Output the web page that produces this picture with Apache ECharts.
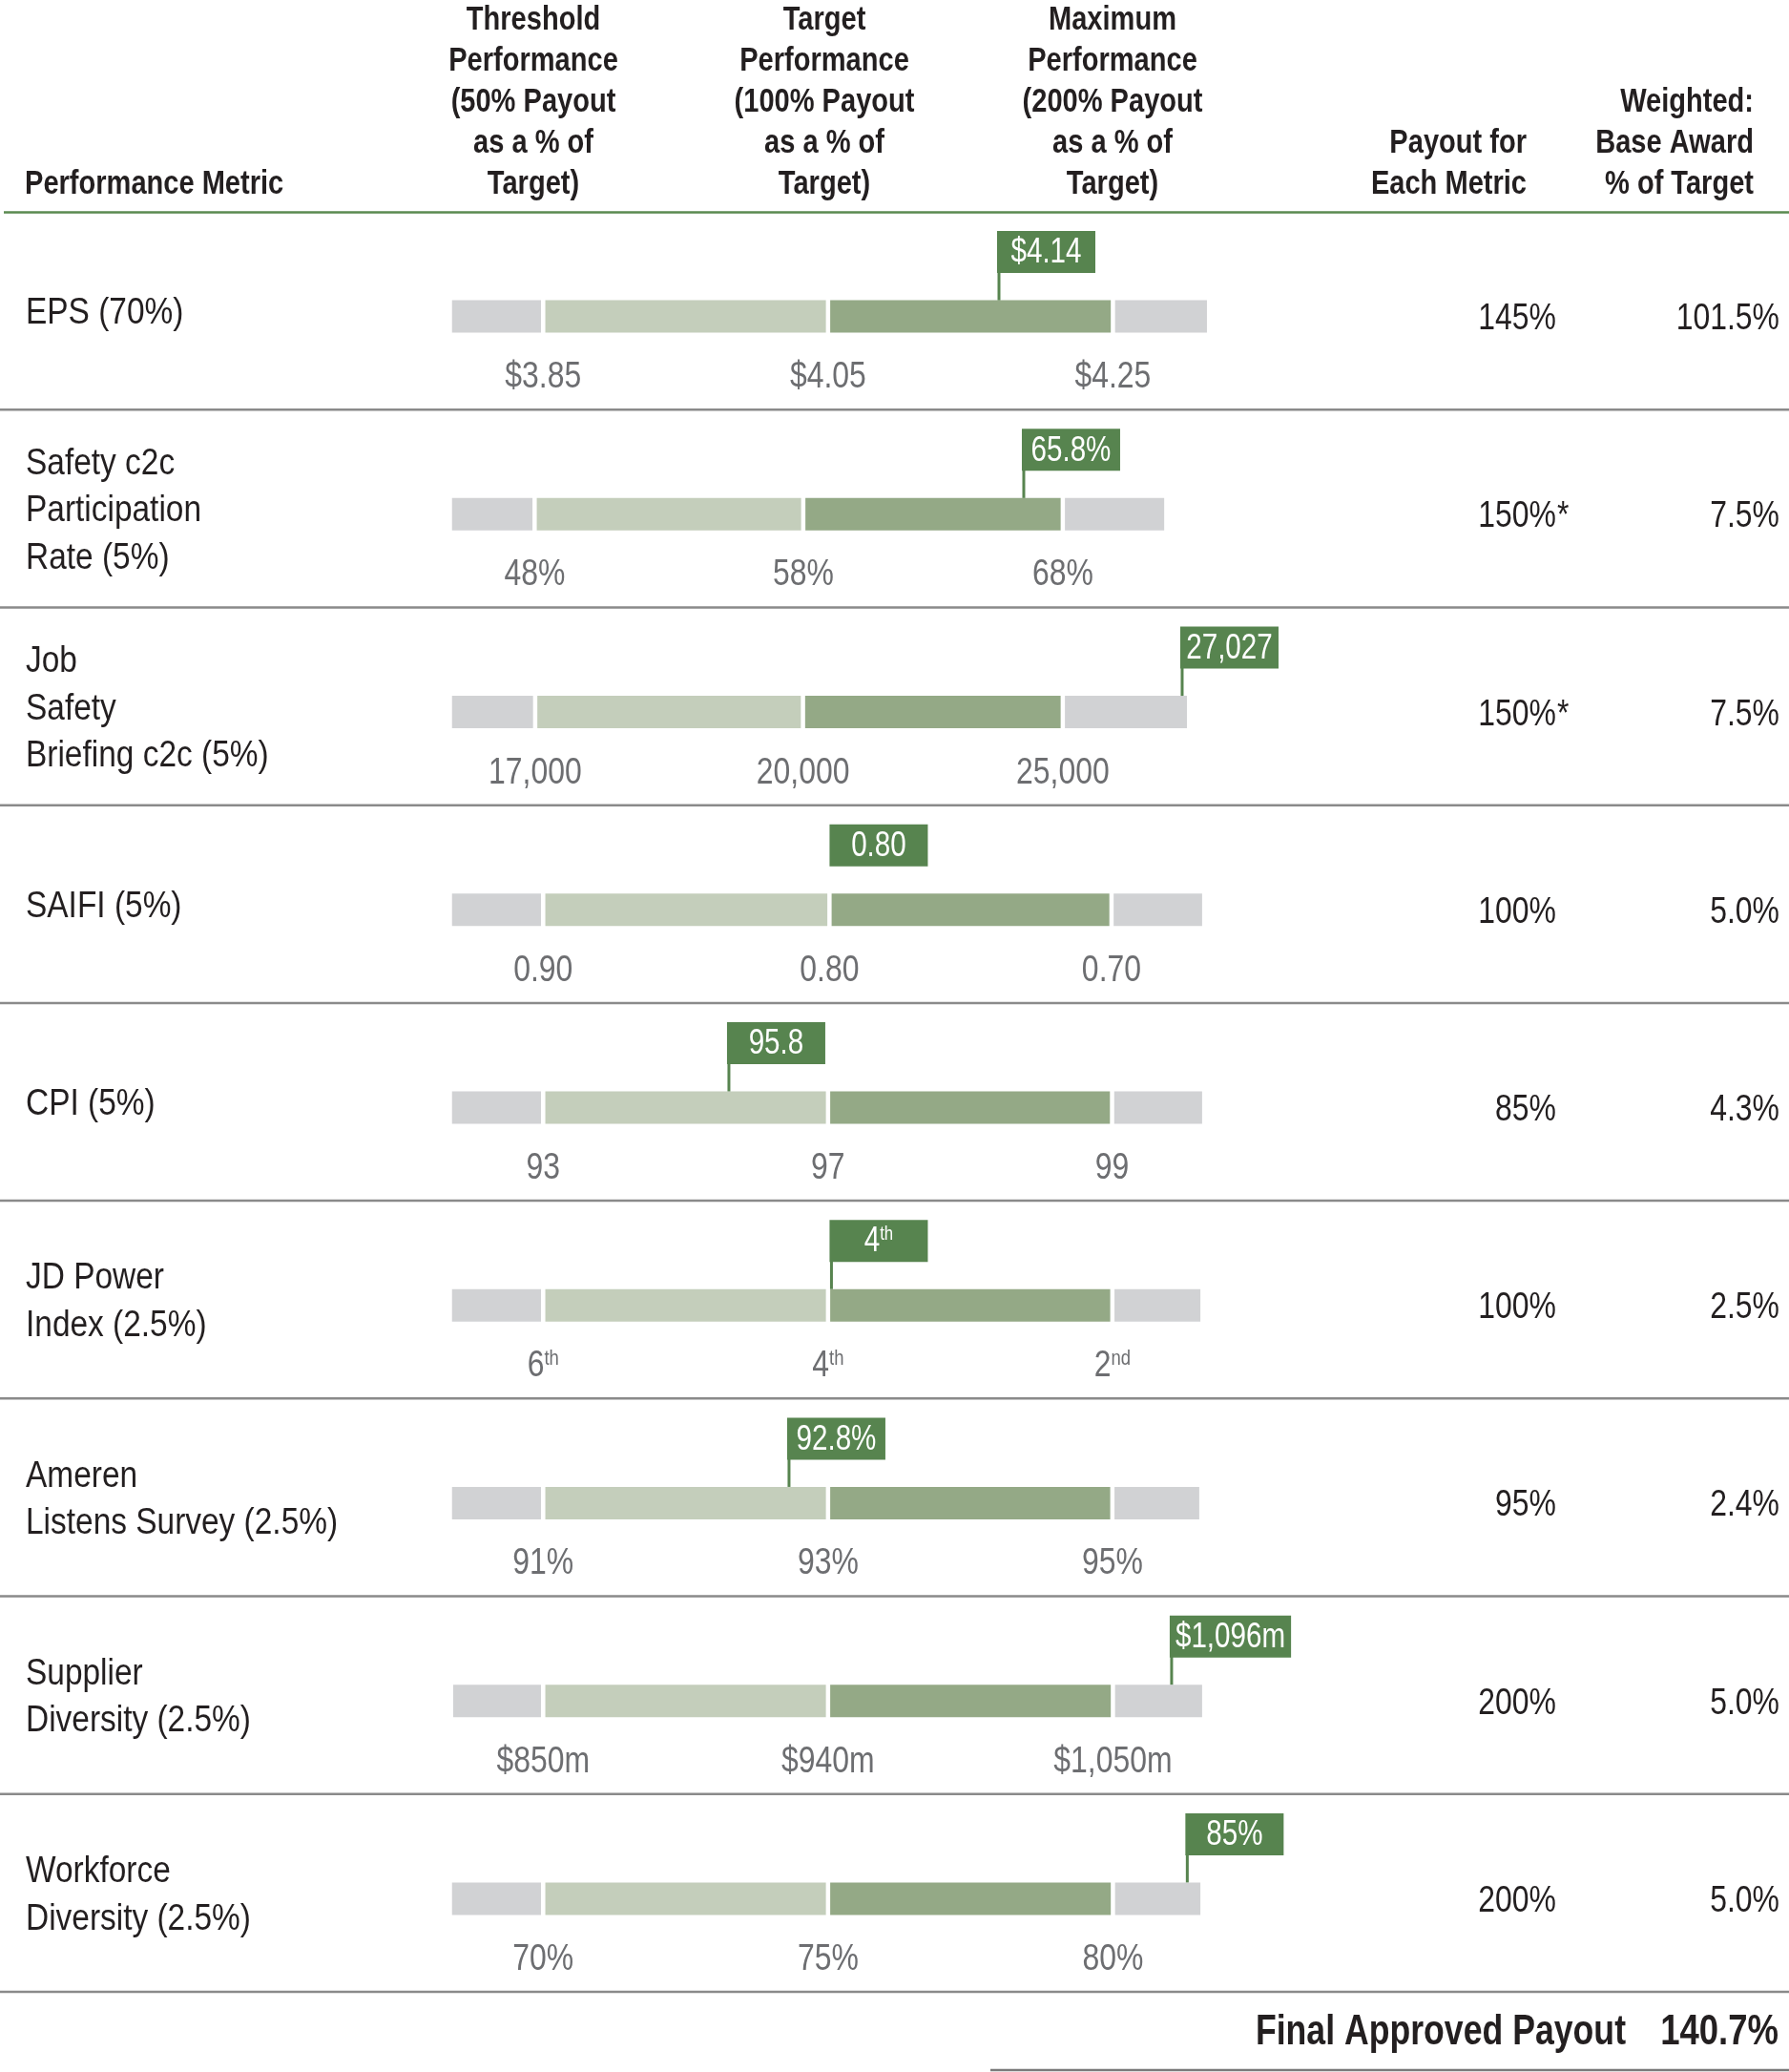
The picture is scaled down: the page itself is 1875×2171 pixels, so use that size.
<!DOCTYPE html>
<html>
<head>
<meta charset="utf-8">
<script src="https://cdn.jsdelivr.net/npm/echarts@6/dist/echarts.min.js"></script>
<style>
html, body { margin: 0; padding: 0; background: #ffffff; }
#chart { width: 1875px; height: 2171px; }
</style>
</head>
<body>
<div id="chart"></div>
<script>
// ---------------- DATA ----------------
const metrics = [
  'EPS (70%)',
  'Safety c2c\nParticipation\nRate (5%)',
  'Job\nSafety\nBriefing c2c (5%)',
  'SAIFI (5%)',
  'CPI (5%)',
  'JD Power\nIndex (2.5%)',
  'Ameren\nListens Survey (2.5%)',
  'Supplier\nDiversity (2.5%)',
  'Workforce\nDiversity (2.5%)'
];
const thresholdLabels = ['$3.85', '48%', '17,000', '0.90', '93', '6{sup|th}', '91%', '$850m', '70%'];
const targetLabels    = ['$4.05', '58%', '20,000', '0.80', '97', '4{sup|th}', '93%', '$940m', '75%'];
const maximumLabels   = ['$4.25', '68%', '25,000', '0.70', '99', '2{sup|nd}', '95%', '$1,050m', '80%'];
const actualLabels    = ['$4.14', '65.8%', '27,027', '0.80', '95.8', '4{sup|th}', '92.8%', '$1,096m', '85%'];
const payoutLabels    = ['145%', '150%*', '150%*', '100%', '85%', '100%', '95%', '200%', '200%'];
const weightedLabels  = ['101.5%', '7.5%', '7.5%', '5.0%', '4.3%', '2.5%', '2.4%', '5.0%', '5.0%'];

// schematic performance scale (threshold = 0, target = 1, maximum = 2 on a standard row)
const barStart    = [-0.32, -0.32, -0.32, -0.32, -0.32, -0.32, -0.32, -0.316, -0.32];
const thresholdAt = [0, -0.03, -0.028, 0, 0, 0, 0, 0, 0];
const targetAt    = [1, 0.913, 0.912, 1.005, 1, 1, 1, 1, 1];
const maximumAt   = [2, 1.824, 1.824, 1.995, 1.997, 1.998, 1.998, 2, 2];
const barEnd      = [2.33, 2.18, 2.26, 2.313, 2.313, 2.307, 2.303, 2.313, 2.307];
const actualAt    = [1.6, 1.687, 2.243, 1.012, 0.652, 1.012, 0.863, 2.206, 2.261];
const showStem    = [1, 1, 1, 0, 1, 1, 1, 1, 1];

const headerMetric    = 'Performance Metric';
const headerThreshold = 'Threshold\nPerformance\n(50% Payout\nas a % of\nTarget)';
const headerTarget    = 'Target\nPerformance\n(100% Payout\nas a % of\nTarget)';
const headerMaximum   = 'Maximum\nPerformance\n(200% Payout\nas a % of\nTarget)';
const headerPayout    = 'Payout for\nEach Metric';
const headerWeighted  = 'Weighted:\nBase Award\n% of Target';
const finalLabel = 'Final Approved Payout';
const finalValue = '140.7%';

// ---------------- STYLE ----------------
const FONT = '"Liberation Sans", Arial, sans-serif';
const NARROW = 0.84;      // horizontal squeeze to imitate a condensed face
const NARROW_BOLD = 0.83;
const BLACK = '#231f20';
const TICK = '#6d6e71';
const GRAY = '#d1d2d4';
const LIGHT = '#c4cebb';
const DARK = '#94a986';
const FLAG = '#57844f';
const HEADLINE = '#5a8a50';
const RULE = '#8a8a8a';

const measureCtx = document.createElement('canvas').getContext('2d');
function measureRich(label, size, supSize) {
  let w = 0;
  const re = /\{sup\|([^}]*)\}/g;
  let last = 0, m;
  while ((m = re.exec(label)) !== null) {
    measureCtx.font = size + 'px ' + FONT;
    w += measureCtx.measureText(label.slice(last, m.index)).width;
    measureCtx.font = supSize + 'px ' + FONT;
    w += measureCtx.measureText(m[1]).width;
    last = re.lastIndex;
  }
  measureCtx.font = size + 'px ' + FONT;
  w += measureCtx.measureText(label.slice(last)).width;
  return w;
}

function txt(text, x, y, opts) {
  const o = opts || {};
  const size = o.size || 38;
  const style = {
    text: text, x: 0, y: 0,
    fontSize: size, fontFamily: FONT, fontWeight: o.bold ? 'bold' : 'normal',
    fill: o.fill || BLACK,
    align: o.align || 'left', verticalAlign: 'middle'
  };
  if (o.lineHeight) style.lineHeight = o.lineHeight;
  if (o.supSize) {
    style.rich = { sup: { fontSize: o.supSize, fontFamily: FONT, fill: o.fill || BLACK, verticalAlign: 'top' } };
  }
  return { type: 'text', x: x, y: y, scaleX: o.scaleX || NARROW, style: style };
}

const rowData = metrics.map((_, i) => [barStart[i], thresholdAt[i], targetAt[i], maximumAt[i], barEnd[i], actualAt[i], i]);

function renderItem(params, api) {
  const row = api.value(6);
  const pt = k => api.coord([api.value(k), row]);
  const band = api.size([0, 1])[1];
  const cy = pt(0)[1];
  const barCy = cy + 6;
  const barH = 34;
  const xs = [0, 1, 2, 3, 4].map(k => pt(k)[0]);
  const gap = 2.25;
  const segColors = [GRAY, LIGHT, DARK, GRAY];
  const children = [];

  for (let s = 0; s < 4; s++) {
    const x0 = xs[s] + (s > 0 ? gap : 0);
    const x1 = xs[s + 1] - (s < 3 ? gap : 0);
    children.push({
      type: 'rect',
      shape: { x: x0, y: barCy - barH / 2, width: x1 - x0, height: barH },
      style: { fill: segColors[s] }
    });
  }

  // tick labels
  [[1, thresholdLabels], [2, targetLabels], [3, maximumLabels]].forEach(([k, arr]) => {
    children.push(txt(arr[row], xs[k], barCy + 64, { align: 'center', fill: TICK, supSize: 22 }));
  });

  // actual flag
  const ax = pt(5)[0];
  const boxH = 44;
  const boxTop = barCy - 89.5;
  const tw = measureRich(actualLabels[row], 37, 21) * 0.8;
  const boxW = Math.max(103, tw + 12);
  const boxLeft = ax - 2;
  if (showStem[row]) {
    children.push({
      type: 'rect',
      shape: { x: ax - 1.5, y: boxTop + boxH - 1, width: 3, height: (barCy - barH / 2) - (boxTop + boxH) + 1 },
      style: { fill: FLAG }
    });
  }
  children.push({
    type: 'rect',
    shape: { x: boxLeft, y: boxTop, width: boxW, height: boxH },
    style: { fill: FLAG }
  });
  children.push(txt(actualLabels[row], boxLeft + boxW / 2, boxTop + boxH / 2 + 1,
    { size: 37, align: 'center', fill: '#ffffff', supSize: 21, scaleX: 0.8 }));

  // metric name
  children.push(txt(metrics[row], 27, cy + 3, { lineHeight: 49.5, scaleX: 0.88 }));

  // payout for each metric
  const pl = payoutLabels[row];
  const star = pl.endsWith('*');
  children.push(txt(star ? pl.slice(0, -1) : pl, 1631, barCy + 3, { align: 'right' }));
  if (star) children.push(txt('*', 1632, barCy + 3, { align: 'left' }));

  // weighted
  children.push(txt(weightedLabels[row], 1865, barCy + 3, { align: 'right' }));

  // row separator
  const by = cy + band / 2;
  children.push({
    type: 'line',
    shape: { x1: 0, y1: by, x2: 1875, y2: by },
    style: { stroke: RULE, lineWidth: 2.5 }
  });

  return { type: 'group', children };
}

const chart = echarts.init(document.getElementById('chart'), null, { renderer: 'canvas' });

const hdr = (text, x, y, align) => txt(text, x, y, { size: 35, bold: true, align: align, lineHeight: 43, scaleX: NARROW_BOLD });

chart.setOption({
  animation: false,
  backgroundColor: '#ffffff',
  grid: { left: 420, right: 410, top: 222, bottom: 84 },
  xAxis: { type: 'value', min: -0.5, max: 3, show: false },
  yAxis: { type: 'category', data: metrics, inverse: true, show: false },
  series: [{
    type: 'custom',
    renderItem: renderItem,
    data: rowData,
    encode: { x: [0, 1, 2, 3, 4, 5], y: 6 },
    clip: false,
    silent: true
  }],
  graphic: { elements: [
    hdr(headerMetric, 26, 193, 'left'),
    hdr(headerThreshold, 559, 107.5, 'center'),
    hdr(headerTarget, 864, 107.5, 'center'),
    hdr(headerMaximum, 1166, 107.5, 'center'),
    hdr(headerPayout, 1600, 171.5, 'right'),
    hdr(headerWeighted, 1838, 150, 'right'),
    { type: 'line', shape: { x1: 4, y1: 222.5, x2: 1875, y2: 222.5 }, style: { stroke: HEADLINE, lineWidth: 2.5 } },
    txt(finalLabel, 1704, 2130, { size: 44, bold: true, align: 'right', scaleX: 0.81 }),
    txt(finalValue, 1864, 2130, { size: 44, bold: true, align: 'right', scaleX: 0.83 }),
    { type: 'line', shape: { x1: 1038, y1: 2169, x2: 1875, y2: 2169 }, style: { stroke: '#7a7a7a', lineWidth: 2.5 } }
  ]}
});
</script>
</body>
</html>
